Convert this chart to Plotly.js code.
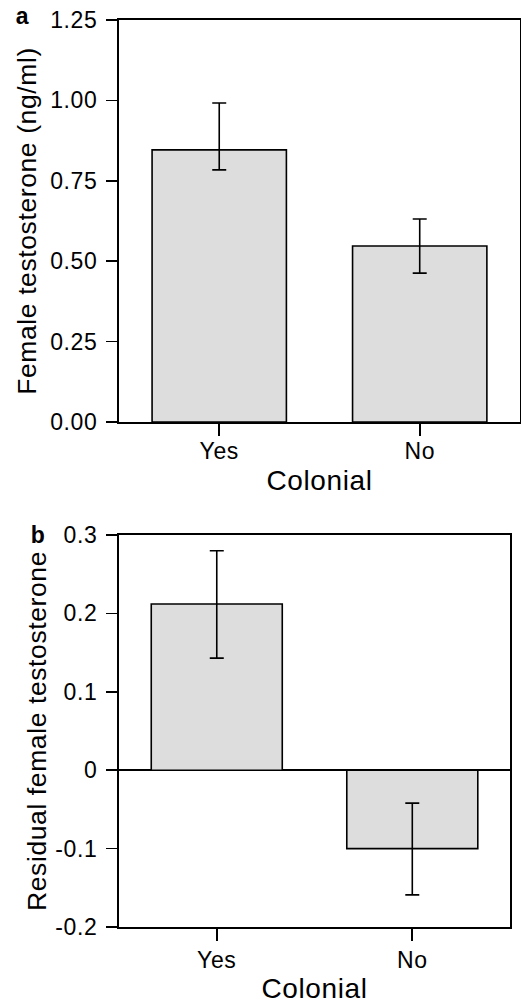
<!DOCTYPE html>
<html>
<head>
<meta charset="utf-8">
<script src="https://cdn.plot.ly/plotly-3.0.1.min.js"></script>
<style>
html,body{margin:0;padding:0;background:#fff;}
#chart{width:521px;height:1004px;}
#chart text{letter-spacing:0.6px;}
</style>
</head>
<body>
<div id="chart"></div>
<script>
// Data
const categories = ["Yes", "No"];
const testosterone = [0.846, 0.547];
const testosteroneErrPlus = [0.146, 0.084];
const testosteroneErrMinus = [0.062, 0.084];
const residual = [0.212, -0.100];
const residualErrPlus = [0.068, 0.058];
const residualErrMinus = [0.069, 0.059];
const yTicksTop = [0, 0.25, 0.5, 0.75, 1.0, 1.25];
const yTickLabelsTop = ["0.00", "0.25", "0.50", "0.75", "1.00", "1.25"];
const yTicksBottom = [-0.2, -0.1, 0, 0.1, 0.2, 0.3];
const yTickLabelsBottom = ["-0.2", "-0.1", "0", "0.1", "0.2", "0.3"];

const FONT = "Liberation Sans, Arial, Helvetica, sans-serif";
const barStyle = {color: "#dddddd", line: {color: "#000", width: 1.6}};

const traces = [
  {
    type: "bar", x: categories, y: testosterone, width: 0.67,
    marker: barStyle, xaxis: "x", yaxis: "y",
    error_y: {type: "data", symmetric: false, array: testosteroneErrPlus, arrayminus: testosteroneErrMinus,
              color: "#000", thickness: 1.6, width: 7}
  },
  {
    type: "bar", x: categories, y: residual, width: 0.67,
    marker: barStyle, xaxis: "x2", yaxis: "y2",
    error_y: {type: "data", symmetric: false, array: residualErrPlus, arrayminus: residualErrMinus,
              color: "#000", thickness: 1.6, width: 7}
  }
];

const xCommon = {
  type: "category", range: [-0.5, 1.5], showline: true, mirror: true, linecolor: "#000", linewidth: 2,
  ticks: "outside", ticklen: 12, tickwidth: 1.6, tickcolor: "#000", showgrid: false, zeroline: false,
  tickfont: {family: FONT, size: 23, color: "#000"}, fixedrange: true, automargin: false
};
const yCommon = {
  showline: true, mirror: true, linecolor: "#000", linewidth: 2,
  ticks: "outside", ticklen: 11, tickwidth: 1.6, tickcolor: "#000", showgrid: false,
  ticklabelstandoff: 4,
  tickfont: {family: FONT, size: 23, color: "#000"}, fixedrange: true, automargin: false
};

const layout = {
  width: 521, height: 1004,
  margin: {l: 0, r: 0, t: 0, b: 0},
  paper_bgcolor: "#fff", plot_bgcolor: "#fff",
  showlegend: false,
  font: {family: FONT, color: "#000"},
  xaxis: Object.assign({}, xCommon, {domain: [0.2284, 0.998], anchor: "y", ticklabelstandoff: -5,
    title: {text: "Colonial", font: {family: FONT, size: 28, color: "#000"}, standoff: 8}}),
  yaxis: Object.assign({}, yCommon, {domain: [0.5797, 0.9801], anchor: "x", range: [0, 1.25],
    tickvals: yTicksTop, ticktext: yTickLabelsTop, zeroline: false,
    title: {text: "Female testosterone (ng/ml)", font: {family: FONT, size: 26.5, color: "#000"}, standoff: 8}}),
  xaxis2: Object.assign({}, xCommon, {domain: [0.2284, 0.979], anchor: "y2", ticklabelstandoff: -1,
    title: {text: "Colonial", font: {family: FONT, size: 28, color: "#000"}, standoff: 13}}),
  yaxis2: Object.assign({}, yCommon, {domain: [0.0767, 0.4671], anchor: "x2", range: [-0.2, 0.3],
    tickvals: yTicksBottom, ticktext: yTickLabelsBottom,
    zeroline: true, zerolinecolor: "#000", zerolinewidth: 1.6,
    title: {text: "Residual female testosterone", font: {family: FONT, size: 26.5, color: "#000"}, standoff: 3}}),
  annotations: [
    {text: "<b>a</b>", xref: "paper", yref: "paper", x: 22.5/521, y: 1 - 16/1004, xanchor: "center", yanchor: "middle",
     showarrow: false, font: {family: FONT, size: 23, color: "#000"}},
    {text: "<b>b</b>", xref: "paper", yref: "paper", x: 38/521, y: 1 - 535/1004, xanchor: "center", yanchor: "middle",
     showarrow: false, font: {family: FONT, size: 23, color: "#000"}}
  ]
};

Plotly.newPlot("chart", traces, layout, {displayModeBar: false, staticPlot: true});
</script>
</body>
</html>
